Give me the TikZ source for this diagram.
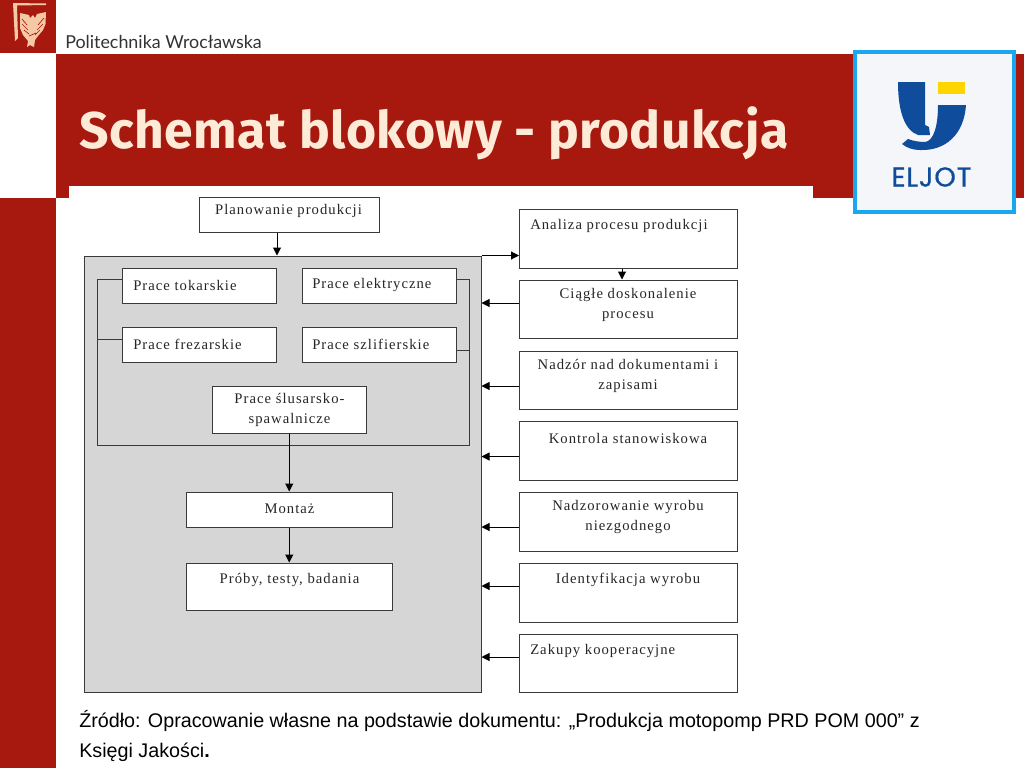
\documentclass[tikz,border=0pt]{standalone}
\usepackage{fontspec}
\setmainfont{Liberation Serif}
\newfontfamily\titlefont[LetterSpace=1]{Fira Sans}
\newfontfamily\srcfont{Liberation Sans}
\newfontfamily\unifont{Lato}
\newfontfamily\logofont[LetterSpace=3,FakeBold=0.6]{Poppins}
\newfontfamily\boxfont[LetterSpace=7]{Liberation Serif}
\usetikzlibrary{fit,arrows.meta}
\definecolor{brick}{HTML}{A7190E}
\definecolor{greybox}{HTML}{D6D6D6}
\definecolor{linec}{HTML}{3A3A3A}
\definecolor{cream}{HTML}{FDEBD8}
\definecolor{crest}{HTML}{F6C9A6}
\definecolor{logoblue}{HTML}{0F4C9C}
\definecolor{logoyellow}{HTML}{FFD500}
\definecolor{logoedge}{HTML}{1AA7EE}
\definecolor{logoback}{HTML}{F4F6F9}
\tikzset{
  boxn/.style={draw=linec,line width=0.75pt,fill=white,inner sep=0pt},
  lab/.style={inner sep=0pt,align=center,font=\boxfont\fontsize{11}{15}\selectfont,text=black!85},
  wire/.style={draw=linec,line width=0.75pt},
  arr/.style={draw=black,line width=0.75pt,-{Triangle[length=6pt,width=6pt]}},
}
\begin{document}
\begin{tikzpicture}[x=0.75pt,y=-0.75pt]
\useasboundingbox (0,0) rectangle (1024,768);
\fill[white] (0,0) rectangle (1024,768);
% slide background
\fill[brick] (0,198) rectangle (56,768);
\fill[brick] (56,54) rectangle (1024,198);
\fill[brick] (0,0) rectangle (56,53);
\fill[white] (69,186) rectangle (813,198);
% crest
\fill[crest] (13,3) -- (46,3.5) -- (46,5) -- (17,5.5) -- (18,38) -- (15,41) -- cycle;
\fill[crest] (20,13) -- (29,15) -- (30,18) -- (33,15) -- (35,18) -- (37,14) -- (46,12) -- (45.5,24) -- (43,30) -- (38,36) -- (35,40) -- (34,47) -- (30,45) -- (27,47) -- (28,41) -- (23,35) -- (20,28) -- cycle;
\draw[brick,line width=0.5pt] (22,19) -- (27,25) (22,24) -- (28,30) (24,30) -- (29,34) (44,18) -- (38,25) (43,24) -- (37,30) (40,30) -- (35,35) (29,36) -- (36,33);
\node[inner sep=0pt,anchor=west,font=\unifont\fontsize{13.4}{15}\selectfont,text=black!80] (uni) at (65,42) {Politechnika Wrocławska};
% title
\node[inner sep=0pt,anchor=base west,font=\titlefont\bfseries\fontsize{38.7}{44}\selectfont,text=cream] (title) at (79,148) {Schemat blokowy - produkcja};
% logo
\node[draw=logoedge,line width=2.3pt,fill=logoback,inner sep=0pt,fit={(855,52)(1014,212)}] (logo) {};
\fill[logoyellow] (938,82) rectangle (965,94);
\fill[logoblue] (898,82) -- (925,82) -- (925,125) -- (929,127) -- (930,135) -- (918,135) .. controls (904,130) and (898,110) .. cycle;
\fill[logoblue] (938,105) -- (966,105) .. controls (964,135) and (945,151) .. (920,150) .. controls (913,150) and (907,148) .. (902,144) -- (908,139) .. controls (913,141) and (920,142) .. (925,142) .. controls (934,141) and (938,125) .. cycle;
\node[inner sep=0pt,font=\logofont\fontsize{20.5}{22}\selectfont,text=logoblue] (eljot) at (931.5,177) {ELJOT};
% main grey block
\node[boxn,fill=greybox,fit={(84.5,256)(481,692)}] (grey) {};
\node[boxn,fit={(199.5,197)(379,232)}] (plan) {};
\node[lab] (planT) at (288.5,211) {Planowanie produkcji};
% inner enclosure wire
\coordinate (encl) at (97,445);
\coordinate (encr) at (469,445);
\node[boxn,fit={(122.5,268)(276.5,303)}] (tok) {};
\node[lab,anchor=west] (tokT) at (133,285) {Prace tokarskie};
\node[boxn,fit={(302,268)(456,303)}] (ele) {};
\node[lab,anchor=west] (eleT) at (312,285) {Prace elektryczne};
\node[boxn,fit={(122.5,327)(276.5,362)}] (fre) {};
\node[lab,anchor=west] (freT) at (133,344) {Prace frezarskie};
\node[boxn,fit={(302,327)(456,362)}] (szl) {};
\node[lab,anchor=west] (szlT) at (312,344) {Prace szlifierskie};
\node[boxn,fit={(212.5,386)(366,433)}] (slu) {};
\node[lab] (sluT) at (289.5,410) {Prace ślusarsko-\\spawalnicze};
\node[boxn,fit={(186.5,492)(392,527)}] (mon) {};
\node[lab] (monT) at (289.5,509) {Montaż};
\node[boxn,fit={(186.5,563)(392,610)}] (pro) {};
\node[lab] (proT) at (289.5,580) {Próby, testy, badania};
% right column
\node[boxn,fit={(519.5,209)(737.7,268)}] (ana) {};
\node[lab,anchor=west] (anaT) at (530,226) {Analiza procesu produkcji};
\node[boxn,fit={(519.5,280)(737.7,338.5)}] (cia) {};
\node[lab] (ciaT) at (628,304.5) {Ciągłe doskonalenie\\procesu};
\node[boxn,fit={(519.5,351)(737.7,409)}] (nad) {};
\node[lab] (nadT) at (628,375.5) {Nadzór nad dokumentami i\\zapisami};
\node[boxn,fit={(519.5,421.5)(737.7,480)}] (kon) {};
\node[lab] (konT) at (628,438) {Kontrola stanowiskowa};
\node[boxn,fit={(519.5,492)(737.7,551)}] (wyr) {};
\node[lab] (wyrT) at (628,517) {Nadzorowanie wyrobu\\niezgodnego};
\node[boxn,fit={(519.5,563)(737.7,622)}] (ide) {};
\node[lab] (ideT) at (628,580) {Identyfikacja wyrobu};
\node[boxn,fit={(519.5,634)(737.7,692)}] (zak) {};
\node[lab,anchor=west] (zakT) at (530,651) {Zakupy kooperacyjne};
% connectors
\draw[wire] (tok.west |- 0,279.5) -| (encl) -- (encr) |- (ele.east |- 0,279.5);
\draw[wire] (fre.west |- 0,339) -- (encl |- 0,339);
\draw[wire] (szl.east |- 0,350.5) -- (encr |- 0,350.5);
\draw[arr] (plan.south -| 277,0) -- (grey.north -| 277,0);
\draw[arr] (slu.south) -- (mon.north);
\draw[arr] (mon.south) -- (pro.north);
\draw[arr] (grey.north east) -- (grey.north east -| ana.west);
\draw[arr] (ana.south -| 622,0) -- (cia.north -| 622,0);
\draw[arr] (cia.west |- 0,303) -- (grey.east |- 0,303);
\draw[arr] (nad.west |- 0,386) -- (grey.east |- 0,386);
\draw[arr] (kon.west |- 0,456.5) -- (grey.east |- 0,456.5);
\draw[arr] (wyr.west |- 0,527) -- (grey.east |- 0,527);
\draw[arr] (ide.west |- 0,586) -- (grey.east |- 0,586);
\draw[arr] (zak.west |- 0,657) -- (grey.east |- 0,657);
% source
\node[inner sep=0pt,anchor=north west,align=left,font=\srcfont\fontsize{14.8}{22.5}\selectfont] (src) at (79,710) {Źródło: Opracowanie własne na podstawie dokumentu: „Produkcja motopomp PRD POM 000” z\\Księgi Jakości{\bfseries .}};
\end{tikzpicture}
\end{document}
